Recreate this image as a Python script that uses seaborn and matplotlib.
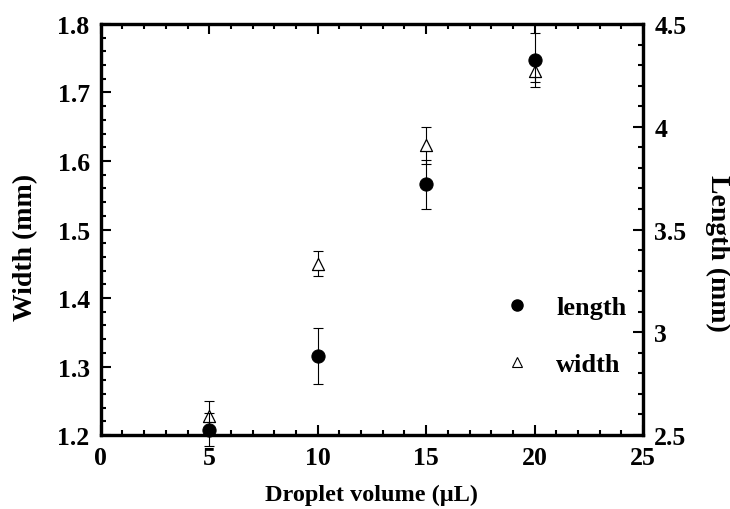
import matplotlib
matplotlib.use("Agg")
import matplotlib.pyplot as plt
import seaborn as sns
import pandas as pd
from matplotlib.ticker import MultipleLocator
from matplotlib.lines import Line2D

# droplet volume (uL)
volume = [5, 10, 15, 20]
# width (mm), left axis
width = [1.228, 1.450, 1.623, 1.731]
width_err = [0.022, 0.018, 0.027, 0.016]
# length (mm), right axis
length = [2.525, 2.885, 3.720, 4.325]
length_err = [0.08, 0.135, 0.12, 0.13]

df = pd.DataFrame({"volume": volume, "width": width, "length": length})

sns.set_style("ticks")
plt.rcParams['font.family'] = ['Liberation Serif', 'DejaVu Serif']
plt.rcParams['font.weight'] = 'bold'
for k in ['text.color', 'axes.labelcolor', 'xtick.color', 'ytick.color', 'axes.edgecolor']:
    plt.rcParams[k] = 'black'

fig, ax = plt.subplots(figsize=(7.3, 5.1), dpi=100)
fig.subplots_adjust(left=0.138, right=0.881, top=0.951, bottom=0.145)
ax2 = ax.twinx()

# width: open triangles on the left axis
ax.errorbar(volume, width, yerr=width_err, fmt='none', ecolor='black',
            elinewidth=0.8, capsize=3.3, capthick=0.8, zorder=2)
sns.scatterplot(data=df, x="volume", y="width", ax=ax, marker='^', s=75,
                facecolor='white', edgecolor='black', linewidth=0.9, zorder=3)

# length: filled circles on the right axis
ax2.errorbar(volume, length, yerr=length_err, fmt='none', ecolor='black',
             elinewidth=0.8, capsize=3.3, capthick=0.8, zorder=2, clip_on=False)
sns.scatterplot(data=df, x="volume", y="length", ax=ax2, marker='o', s=90,
                color='black', edgecolor='black', zorder=3, clip_on=False)

ax.set_xlim(0, 25)
ax.set_ylim(1.2, 1.8)
ax2.set_ylim(2.5, 4.5)

ax.xaxis.set_major_locator(MultipleLocator(5))
ax.xaxis.set_minor_locator(MultipleLocator(1))
ax.yaxis.set_major_locator(MultipleLocator(0.1))
ax.yaxis.set_minor_locator(MultipleLocator(0.02))
ax2.set_yticks([2.5, 3, 3.5, 4, 4.5])
ax2.set_yticklabels(['2.5', '3', '3.5', '4', '4.5'])
ax2.yaxis.set_minor_locator(MultipleLocator(0.1))

for a in (ax, ax2):
    a.tick_params(which='major', direction='in', length=7, width=1.5,
                  labelsize=18.5, pad=8)
    a.tick_params(which='minor', direction='in', length=3.5, width=1.5)
    for s in a.spines.values():
        s.set_linewidth(2.3)
        s.set_visible(True)
ax.tick_params(axis='x', which='both', top=True, pad=8)
ax.tick_params(axis='y', which='both', right=False)
ax2.tick_params(axis='y', which='both', left=False)

ax.set_xlabel("Droplet volume (\u03bcL)", fontsize=17.5, fontweight='bold')
ax.set_ylabel("Width (mm)", fontsize=20, fontweight='bold')
ax2.set_ylabel("Length (mm)", fontsize=20, fontweight='bold', rotation=270)
ax.xaxis.set_label_coords(0.5, -0.119)
ax.yaxis.set_label_coords(-0.115, 0.46)
ax2.yaxis.set_label_coords(1.161, 0.445)

handles = [Line2D([], [], marker='o', color='black', linestyle='none', markersize=8),
           Line2D([], [], marker='^', markerfacecolor='white', markeredgecolor='black',
                  markeredgewidth=0.8, linestyle='none', markersize=6.5)]
ax.legend(handles, ['length', 'width'], loc='center left',
          bbox_to_anchor=(0.718, 0.242), frameon=False, borderpad=0,
          handlelength=1, handletextpad=1.0, labelspacing=1.27,
          prop={'weight': 'bold', 'size': 19})

fig.savefig("out.png", dpi=100)
